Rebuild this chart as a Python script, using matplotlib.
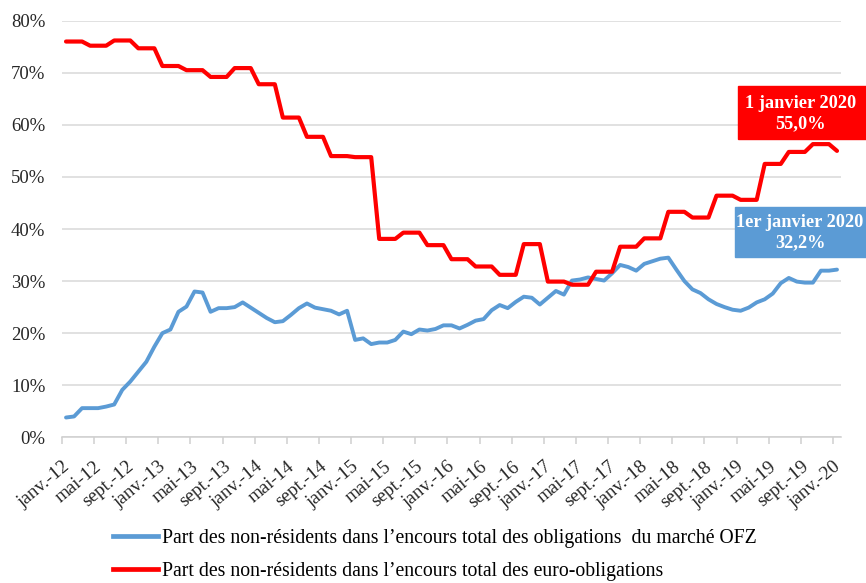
import matplotlib.pyplot as plt
from matplotlib.patches import Rectangle
from matplotlib.lines import Line2D
from matplotlib.transforms import ScaledTranslation

plt.rcParams['font.family'] = ['Liberation Serif', 'DejaVu Serif']

# part des non-résidents, données mensuelles janv. 2012 - janv. 2020 (%)
ofz = [3.8, 4.0, 5.6, 5.6, 5.6, 5.9, 6.3, 9.1, 10.7, 12.6, 14.5, 17.4,
       20.0, 20.7, 24.1, 25.1, 28.0, 27.8, 24.1, 24.8, 24.8, 25.0, 25.9, 24.9,
       23.9, 22.9, 22.1, 22.3, 23.5, 24.8, 25.7, 24.9, 24.6, 24.3, 23.6, 24.3,
       18.7, 19.0, 17.9, 18.2, 18.2, 18.7, 20.3, 19.8, 20.7, 20.5, 20.8, 21.5,
       21.5, 20.9, 21.6, 22.4, 22.7, 24.4, 25.4, 24.8, 26.0, 27.0, 26.8, 25.5,
       26.8, 28.1, 27.4, 30.1, 30.3, 30.7, 30.4, 30.1, 31.5, 33.1, 32.7, 32.0,
       33.3, 33.8, 34.3, 34.5, 32.2, 30.0, 28.4, 27.7, 26.5, 25.6, 25.0, 24.5,
       24.3, 24.9, 25.9, 26.5, 27.6, 29.6, 30.6, 29.9, 29.7, 29.7, 32.0, 32.0,
       32.2]

euro = [76.0, 76.0, 76.0, 75.2, 75.2, 75.2, 76.2, 76.2, 76.2, 74.7, 74.7, 74.7,
        71.3, 71.3, 71.3, 70.5, 70.5, 70.5, 69.2, 69.2, 69.2, 70.9, 70.9, 70.9,
        67.8, 67.8, 67.8, 61.4, 61.4, 61.4, 57.7, 57.7, 57.7, 54.0, 54.0, 54.0,
        53.8, 53.8, 53.8, 38.1, 38.1, 38.1, 39.3, 39.3, 39.3, 36.9, 36.9, 36.9,
        34.2, 34.2, 34.2, 32.8, 32.8, 32.8, 31.2, 31.2, 31.2, 37.1, 37.1, 37.1,
        29.9, 29.9, 29.9, 29.3, 29.3, 29.3, 31.8, 31.8, 31.8, 36.6, 36.6, 36.6,
        38.2, 38.2, 38.2, 43.3, 43.3, 43.3, 42.2, 42.2, 42.2, 46.4, 46.4, 46.4,
        45.6, 45.6, 45.6, 52.5, 52.5, 52.5, 54.8, 54.8, 54.8, 56.3, 56.3, 56.3,
        55.0]

etiquettes = ['janv.-12', 'mai-12', 'sept.-12', 'janv.-13', 'mai-13', 'sept.-13',
              'janv.-14', 'mai-14', 'sept.-14', 'janv.-15', 'mai-15', 'sept.-15',
              'janv.-16', 'mai-16', 'sept.-16', 'janv.-17', 'mai-17', 'sept.-17',
              'janv.-18', 'mai-18', 'sept.-18', 'janv.-19', 'mai-19', 'sept.-19',
              'janv.-20']

leg_ofz = 'Part des non-résidents dans l\u2019encours total des obligations  du marché OFZ'
leg_euro = 'Part des non-résidents dans l\u2019encours total des euro-obligations'

bleu = '#5B9BD5'
rouge = '#FF0000'

x = list(range(len(ofz)))

fig = plt.figure(figsize=(8.66, 5.83), dpi=100)
ax = fig.add_axes([62/866, 1-437.3/583, 779/866, 416.6/583])

ax.plot(x, ofz, color=bleu, lw=2.8, solid_joinstyle='round', solid_capstyle='round')
ax.plot(x, euro, color=rouge, lw=3.0, solid_joinstyle='round', solid_capstyle='round')

ax.set_xlim(-0.5, len(x) - 0.5)
ax.set_ylim(0, 80)
ax.set_yticks(range(0, 81, 10))
ax.set_yticklabels([f'{v}%' for v in range(0, 81, 10)])
ax.yaxis.grid(True, color='#D9D9D9', lw=1.1)
ax.set_axisbelow(True)
for s in ['left', 'right', 'top']:
    ax.spines[s].set_visible(False)
ax.spines['bottom'].set_color('#CFCFCF')
ax.spines['bottom'].set_linewidth(1.1)
ax.tick_params(axis='y', length=0, pad=12, labelsize=13.5, labelcolor='#262626')

# étiquettes tous les 4 mois, traits entre les catégories
ax.set_xticks(range(0, len(x), 4))
ax.set_xticklabels(etiquettes, rotation=40, ha='right', va='top')
ax.set_xticks([i - 0.5 for i in range(0, len(x), 4)], minor=True)
ax.tick_params(axis='x', which='major', length=0, pad=15, labelsize=13.8, labelcolor='#262626')
ax.tick_params(axis='x', which='minor', length=5, width=1.1, color='#CFCFCF')
decal = ScaledTranslation(0.07, 0, fig.dpi_scale_trans)
for lbl in ax.get_xticklabels():
    lbl.set_transform(lbl.get_transform() + decal)

# légende
poignees = [Line2D([], [], color=bleu, lw=3.4), Line2D([], [], color=rouge, lw=3.4)]
fig.legend(poignees, [leg_ofz, leg_euro], loc='upper left',
           bbox_to_anchor=(113/866, 1-529/583), frameon=False, fontsize=14.2,
           handlelength=2.3, handletextpad=0.2, labelspacing=0.72,
           borderpad=0, borderaxespad=0)

# encadrés
fig.patches.append(Rectangle((738/866, 1-139.3/583), 160/866, 53.3/583,
                             transform=fig.transFigure, color=rouge, zorder=5))
fig.text(801/866, 1-113.5/583, '1 janvier 2020\n55,0%', ha='center', va='center',
         color='white', fontsize=13.2, fontweight='bold', linespacing=1.3, zorder=6)
fig.patches.append(Rectangle((735/866, 1-257.3/583), 160/866, 50/583,
                             transform=fig.transFigure, color=bleu, zorder=5))
fig.text(800/866, 1-233/583, '1er janvier 2020\n32,2%', ha='center', va='center',
         color='white', fontsize=13.2, fontweight='bold', linespacing=1.25, zorder=6)

fig.savefig('out.png', dpi=100)
